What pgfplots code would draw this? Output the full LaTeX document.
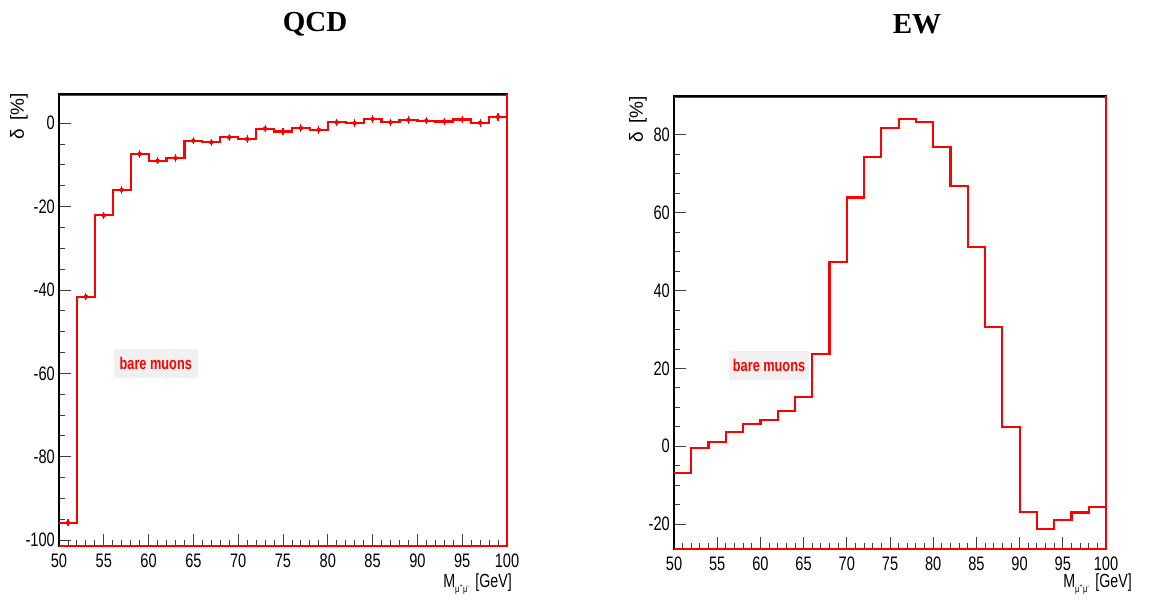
\documentclass[border=0pt]{standalone}
\usepackage{fontspec}
\setmainfont{Liberation Sans}
\newfontfamily\rootfont[FakeStretch=0.75]{Liberation Sans}
\newfontfamily\rootfontb[FakeStretch=0.75]{Liberation Sans Bold}
\newfontfamily\titlefont{Liberation Serif}
\usepackage{pgfplots}
\pgfplotsset{compat=1.18}
\pgfplotsset{rootaxis/.style={
  scale only axis,
  anchor=south west,
  xmin=50, xmax=100,
  xtick={50,55,...,100},
  minor x tick num=4,
  minor y tick num=3,
  tick align=inside,
  xtick pos=bottom, ytick pos=left,
  major tick length=12pt, minor tick length=6pt,
  tick style={black!75, line width=0.9pt},
  axis line style={black, line width=1.2pt},
  ticklabel style={font=\rootfont\fontsize{19.5}{19.5}\selectfont},
  xticklabel style={inner sep=0pt, anchor=north, yshift=-8pt},
  yticklabel style={inner sep=0pt, anchor=east, xshift=-4pt},
  /pgf/number format/assume math mode=true,
  clip=false,
}}
\begin{document}
\begin{tikzpicture}
\path[use as bounding box] (0,0) rectangle (1149pt,605pt);
% ---------- QCD ----------
\begin{axis}[rootaxis,
  at={(59pt,59pt)}, width=448pt, height=452pt,
  ymin=-101.4, ymax=7,
  ytick={-100,-80,-60,-40,-20,0},
  yticklabels={-100,-80,-60,-40,-20,0},
]
\draw[red, line width=0.9pt] ([yshift=-1.4pt]rel axis cs:0,1) -- ([yshift=-1.4pt]rel axis cs:1,1);
\addplot[red, line width=2.2pt, const plot] coordinates {
(50,-95.8)(52,-41.6)(54,-22.1)(56,-16.0)(58,-7.4)(60,-9.0)(62,-8.4)(64,-4.2)(66,-4.6)(68,-3.4)
(70,-3.8)(72,-1.3)(74,-2.0)(76,-1.2)(78,-1.6)(80,0.2)(82,0.0)(84,1.0)(86,0.2)(88,0.8)
(90,0.6)(92,0.4)(94,0.9)(96,0.1)(98,1.5)(100,1.5)};
\addplot[red, line width=2.2pt] coordinates {(100,1.5)(100,-101.4)(50,-101.4)};
\addplot[red, line width=1.4pt] coordinates {(100,1.5)(100,7)};
\addplot[red, only marks, mark=none,
  error bars/.cd, y dir=both, y fixed=0.9, error mark=none,
  error bar style={red, line width=1.1pt}] coordinates {
(51,-95.8)(53,-41.6)(55,-22.1)(57,-16.0)(59,-7.4)(61,-9.0)(63,-8.4)(65,-4.2)(67,-4.6)(69,-3.4)
(71,-3.8)(73,-1.3)(75,-2.0)(77,-1.2)(79,-1.6)(81,0.2)(83,0.0)(85,1.0)(87,0.2)(89,0.8)
(91,0.6)(93,0.4)(95,0.9)(97,0.1)(99,1.5)};
\node[fill=black!6, minimum width=84pt, minimum height=29pt, inner sep=0pt,
  text=red, font=\rootfontb\fontsize{17}{17}\selectfont] at (axis cs:60.8,-57.6) {bare muons};
\end{axis}
% ---------- EW ----------
\begin{axis}[rootaxis,
  at={(674pt,56pt)}, width=432pt, height=453pt,
  ymin=-26.4, ymax=90,
  ytick={-20,0,20,40,60,80},
  yticklabels={-20,0,20,40,60,80},
]
\draw[red, line width=0.9pt] ([yshift=-1.4pt]rel axis cs:0,1) -- ([yshift=-1.4pt]rel axis cs:1,1);
\addplot[red, line width=2.2pt, const plot] coordinates {
(50,-6.8)(52,-0.4)(54,1.1)(56,3.6)(58,5.8)(60,6.7)(62,9.1)(64,12.6)(66,23.7)(68,47.4)
(70,63.9)(72,74.3)(74,81.7)(76,84.1)(78,83.3)(80,76.9)(82,66.8)(84,51.2)(86,30.7)(88,5.0)
(90,-16.8)(92,-21.2)(94,-18.9)(96,-17.0)(98,-15.6)(100,-15.6)};
\addplot[red, line width=2.2pt] coordinates {(100,-15.6)(100,-26.4)(50,-26.4)};
\addplot[red, line width=1.4pt] coordinates {(100,-15.6)(100,90)};
\node[fill=black!6, minimum width=80pt, minimum height=29pt, inner sep=0pt,
  text=red, font=\rootfontb\fontsize{17}{17}\selectfont] at (axis cs:61,20.8) {bare muons};
\end{axis}
% ---------- titles and labels ----------
\node[font=\titlefont\bfseries\fontsize{29}{29}\selectfont] at (315pt,581pt) {QCD};
\node[font=\titlefont\bfseries\fontsize{29}{29}\selectfont] at (917pt,581pt) {EW};
\node[rotate=90, anchor=north east, inner sep=0pt, font=\fontsize{19}{19}\selectfont] at (10pt,512pt) {δ\hspace{0.45em}[\%]};
\node[rotate=90, anchor=north east, inner sep=0pt, font=\fontsize{19}{19}\selectfont] at (629pt,509pt) {δ\hspace{0.45em}[\%]};
\node[anchor=base east, inner sep=0pt, font=\rootfont\fontsize{19}{19}\selectfont] at (512pt,17pt) {M\raisebox{-0.4ex}{\fontsize{10}{10}\selectfont μ\textsuperscript{+}μ\textsuperscript{-}}\hspace{0.3em}[GeV]};
\node[anchor=base east, inner sep=0pt, font=\rootfont\fontsize{19}{19}\selectfont] at (1132pt,17pt) {M\raisebox{-0.4ex}{\fontsize{10}{10}\selectfont μ\textsuperscript{+}μ\textsuperscript{-}}\hspace{0.3em}[GeV]};
\end{tikzpicture}
\end{document}
